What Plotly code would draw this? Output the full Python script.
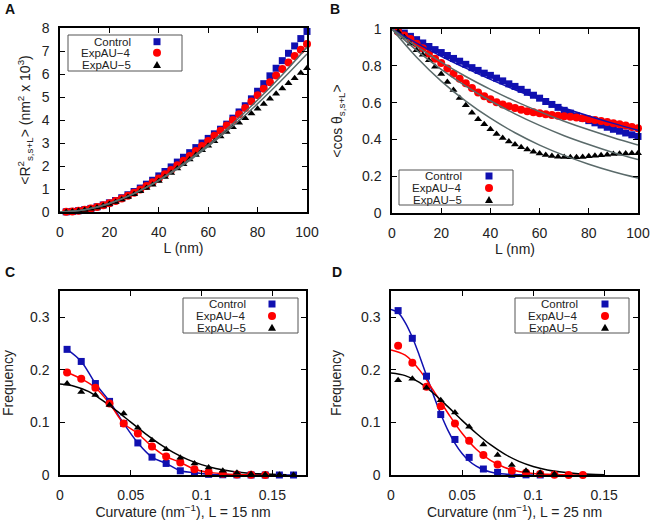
import plotly.graph_objects as go
from plotly.subplots import make_subplots

W, H = 653, 520
BLUE = '#1010b0'
RED = '#ff0000'
BLACK = '#000000'
FIT = '#5a6a6a'
FONT = 'Liberation Sans, Arial, sans-serif'

#Panel A / B : data vs contour length L (nm)___________________________
L_nm = [2.5, 5, 7.5, 10, 12.5, 15, 17.5, 20, 22.5, 25, 27.5, 30, 32.5, 35, 37.5, 40,
        42.5, 45, 47.5, 50, 52.5, 55, 57.5, 60, 62.5, 65, 67.5, 70, 72.5, 75, 77.5, 80,
        82.5, 85, 87.5, 90, 92.5, 95, 97.5, 100]

r2_control = [0.006, 0.025, 0.056, 0.10, 0.156, 0.225, 0.305, 0.40, 0.50, 0.62, 0.75, 0.89,
              1.04, 1.21, 1.38, 1.57, 1.76, 1.96, 2.17, 2.38, 2.58, 2.80, 3.0, 3.2, 3.4, 3.6,
              3.82, 4.08, 4.35, 4.62, 4.92, 5.25, 5.58, 5.92, 6.25, 6.58, 6.90, 7.22, 7.54, 7.85]
r2_exp4 = [0.006, 0.024, 0.054, 0.096, 0.15, 0.215, 0.29, 0.38, 0.48, 0.59, 0.71, 0.84,
           0.98, 1.13, 1.29, 1.46, 1.64, 1.83, 2.03, 2.23, 2.44, 2.65, 2.87, 3.09, 3.31, 3.53,
           3.76, 4.0, 4.25, 4.52, 4.8, 5.08, 5.36, 5.64, 5.93, 6.22, 6.5, 6.78, 7.05, 7.3]
r2_exp5 = [0.005, 0.02, 0.05, 0.09, 0.14, 0.2, 0.27, 0.35, 0.44, 0.54, 0.65, 0.77,
           0.9, 1.04, 1.19, 1.35, 1.52, 1.7, 1.89, 2.08, 2.28, 2.48, 2.68, 2.88, 3.08, 3.28,
           3.48, 3.68, 3.88, 4.08, 4.28, 4.49, 4.7, 4.92, 5.14, 5.37, 5.6, 5.82, 6.04, 6.25]

L_fit = [0, 10, 20, 30, 40, 50, 60, 70, 80, 90, 100]
r2_fit1 = [0, 0.096, 0.372, 0.808, 1.389, 2.10, 2.92, 3.85, 4.87, 5.97, 7.16]
r2_fit2 = [0, 0.096, 0.369, 0.797, 1.363, 2.05, 2.85, 3.74, 4.71, 5.76, 6.87]

cos_control = [0.99, 0.978, 0.96, 0.942, 0.924, 0.905, 0.888, 0.872, 0.856, 0.84, 0.825, 0.808,
               0.79, 0.775, 0.76, 0.748, 0.733, 0.718, 0.702, 0.688, 0.672, 0.656, 0.64, 0.624,
               0.606, 0.59, 0.574, 0.558, 0.543, 0.528, 0.515, 0.502, 0.49, 0.478, 0.466, 0.455,
               0.445, 0.435, 0.425, 0.416]
cos_exp4 = [0.985, 0.965, 0.945, 0.92, 0.895, 0.865, 0.838, 0.815, 0.785, 0.757, 0.73, 0.705,
            0.68, 0.655, 0.635, 0.618, 0.602, 0.59, 0.58, 0.57, 0.561, 0.553, 0.547, 0.542,
            0.537, 0.533, 0.529, 0.526, 0.523, 0.519, 0.515, 0.51, 0.505, 0.5, 0.494, 0.488,
            0.482, 0.476, 0.468, 0.46]
cos_exp5 = [0.985, 0.955, 0.92, 0.885, 0.86, 0.83, 0.795, 0.755, 0.712, 0.668, 0.625, 0.585,
            0.545, 0.51, 0.482, 0.455, 0.43, 0.408, 0.388, 0.372, 0.358, 0.345, 0.333, 0.323,
            0.315, 0.31, 0.306, 0.304, 0.303, 0.303, 0.305, 0.308, 0.311, 0.314, 0.317, 0.32,
            0.322, 0.324, 0.325, 0.325]

cos_fit_control = [1, 0.923, 0.852, 0.787, 0.726, 0.670, 0.619, 0.571, 0.527, 0.487, 0.449]
cos_fit1 = [1, 0.905, 0.820, 0.742, 0.672, 0.608, 0.551, 0.499, 0.452, 0.409, 0.370]
cos_fit2 = [1, 0.884, 0.781, 0.690, 0.610, 0.539, 0.476, 0.420, 0.372, 0.328, 0.290]
cos_fit3 = [1, 0.847, 0.717, 0.608, 0.515, 0.436, 0.369, 0.313, 0.265, 0.224, 0.190]

#Panel C : curvature distribution, L = 15 nm___________________________
curv = [0.005, 0.015, 0.025, 0.035, 0.045, 0.055, 0.065, 0.075, 0.085, 0.095, 0.105,
        0.115, 0.125, 0.135, 0.145, 0.155, 0.165]
c_control = [0.239, 0.216, 0.174, 0.140, 0.098, 0.061, 0.034, 0.022, 0.008, 0.0044, 0.0013,
             0.0005, 0.0002, 0, 0, 0, 0]
c_exp4 = [0.195, 0.183, 0.166, 0.136, 0.098, 0.079, 0.054, 0.035, 0.024, 0.011, 0.005,
          0.0025, 0.001, 0.0003, 0.0001]
c_exp5 = [0.174, 0.158, 0.152, 0.133, 0.117, 0.09, 0.066, 0.049, 0.033, 0.022, 0.0145,
          0.008, 0.0044, 0.002, 0.001, 0.0003, 0.0001]
curv_fit = [0, 0.01, 0.02, 0.03, 0.04, 0.05, 0.06, 0.07, 0.08, 0.09, 0.1, 0.11, 0.12,
            0.13, 0.14, 0.15, 0.16]
c_fit_exp5 = [0.173, 0.169, 0.159, 0.142, 0.122, 0.1006, 0.0792, 0.0598, 0.0431, 0.0298,
              0.0198, 0.0125, 0.0076, 0.0044, 0.0025, 0.0013, 0.0007]

#Panel D : curvature distribution, L = 25 nm___________________________
d_control = [0.3127, 0.260, 0.188, 0.115, 0.0676, 0.0335, 0.0114, 0.005, 0.0013, 0.0003, 0.0001]
d_exp4 = [0.246, 0.2135, 0.168, 0.131, 0.098, 0.065, 0.038, 0.020, 0.0082, 0.0044, 0.002,
          0.0006, 0.0002, 0.0001]
d_exp5 = [0.18, 0.183, 0.166, 0.142, 0.119, 0.0916, 0.058, 0.038, 0.019, 0.0082, 0.0044, 0.0019]
curv_fit_fine = [0, 0.005, 0.01, 0.015, 0.02, 0.025, 0.03, 0.035, 0.04, 0.045, 0.05, 0.055,
                 0.06, 0.065, 0.07, 0.075, 0.08, 0.09, 0.1]
d_fit_control = [0.315, 0.309, 0.290, 0.262, 0.227, 0.189, 0.151, 0.116, 0.0853, 0.0603,
                 0.0409, 0.0267, 0.0167, 0.0100, 0.0058, 0.0032, 0.0017, 0.0004, 0.0001]
d_fit_exp4 = [0.238, 0.228, 0.200, 0.160, 0.118, 0.0793, 0.0489, 0.0276, 0.0143, 0.0068,
              0.0029, 0.0012, 0.0004, 0.0001, 0.0]
d_fit_exp5 = [0.194, 0.189, 0.176, 0.155, 0.130, 0.104, 0.0795, 0.0576, 0.0397, 0.0260,
              0.0163, 0.0097, 0.0055, 0.0029, 0.0015, 0.0007]


def pts(x, y, color, symbol, size, row, col):
    fig.add_trace(go.Scatter(x=x, y=y, mode='markers', cliponaxis=False,
                             marker=dict(color=color, symbol=symbol, size=size, line_width=0)),
                  row=row, col=col)


def curve(x, y, color, row, col, width=1.5):
    fig.add_trace(go.Scatter(x=x, y=y, mode='lines', line=dict(color=color, width=width, shape='spline'),
                             cliponaxis=True), row=row, col=col)


fig = make_subplots(rows=2, cols=2)

# A
pts(L_nm, r2_control, BLUE, 'square', 7, 1, 1)
pts(L_nm, r2_exp4, RED, 'circle', 8, 1, 1)
pts(L_nm, r2_exp5, BLACK, 'triangle-up', 7, 1, 1)
curve(L_fit, r2_fit1, FIT, 1, 1)
curve(L_fit, r2_fit2, FIT, 1, 1)

# B
pts(L_nm, cos_control, BLUE, 'square', 7, 1, 2)
pts(L_nm, cos_exp4, RED, 'circle', 8, 1, 2)
pts(L_nm, cos_exp5, BLACK, 'triangle-up', 7, 1, 2)
curve(L_fit, cos_fit_control, BLUE, 1, 2)
curve(L_fit, cos_fit1, FIT, 1, 2)
curve(L_fit, cos_fit2, FIT, 1, 2)
curve(L_fit, cos_fit3, FIT, 1, 2)

# C
curve(curv, c_control, BLUE, 2, 1)
curve(curv[:len(c_exp4)], c_exp4, RED, 2, 1)
curve(curv_fit, c_fit_exp5, BLACK, 2, 1)
pts(curv, c_control, BLUE, 'square', 7, 2, 1)
pts(curv[:len(c_exp4)], c_exp4, RED, 'circle', 8, 2, 1)
pts(curv, c_exp5, BLACK, 'triangle-up', 7, 2, 1)

# D
curve(curv_fit_fine, d_fit_control, BLUE, 2, 2)
curve(curv_fit[:len(d_fit_exp4)], d_fit_exp4, RED, 2, 2)
curve(curv_fit[:len(d_fit_exp5)], d_fit_exp5, BLACK, 2, 2)
pts(curv[:len(d_control)], d_control, BLUE, 'square', 7, 2, 2)
pts(curv[:len(d_exp4)], d_exp4, RED, 'circle', 8, 2, 2)
pts(curv[:len(d_exp5)], d_exp5, BLACK, 'triangle-up', 7, 2, 2)

axis_style = dict(showline=True, mirror='allticks', linecolor='black', linewidth=1.5,
                  ticks='inside', ticklen=5, tickwidth=1, tickcolor='black',
                  showgrid=False, zeroline=False, ticklabelstandoff=6, automargin=False,
                  tickfont=dict(size=14, color='#222'),
                  title_font=dict(size=14, color='#222'))


def dom_x(a, b):
    return [a / W, b / W]


def dom_y(top, bottom):
    return [1 - bottom / H, 1 - top / H]


curv_title = 'Curvature (nm<sup>\u22121</sup>), L = {} nm'
fig.update_layout(
    xaxis=dict(axis_style, domain=dom_x(60, 307), range=[0, 100], dtick=20,
               title=dict(text='L (nm)', standoff=0)),
    yaxis=dict(axis_style, domain=dom_y(28, 212), range=[0, 8], dtick=1,
               title=dict(text='&lt;R<sup>2</sup><sub>s,s+L</sub>&gt; (nm<sup>2</sup> x 10<sup>3</sup>)',
                          standoff=8)),
    xaxis2=dict(axis_style, domain=dom_x(392, 638), range=[0, 100], dtick=20,
                title=dict(text='L (nm)', standoff=0)),
    yaxis2=dict(axis_style, domain=dom_y(29, 213), range=[0, 1], dtick=0.2,
                title=dict(text='&lt;cos \u03b8<sub>s,s+L</sub>&gt;', standoff=16)),
    xaxis3=dict(axis_style, domain=dom_x(60, 306), range=[0, 0.1738], dtick=0.05,
                title=dict(text=curv_title.format(15), standoff=10)),
    yaxis3=dict(axis_style, domain=dom_y(291, 475), range=[0, 0.35], dtick=0.1,
                title=dict(text='Frequency', standoff=16)),
    xaxis4=dict(axis_style, domain=dom_x(391, 638), range=[0, 0.1738], dtick=0.05,
                title=dict(text=curv_title.format(25), standoff=10)),
    yaxis4=dict(axis_style, domain=dom_y(291, 475), range=[0, 0.35], dtick=0.1,
                title=dict(text='Frequency', standoff=16)),
    width=W, height=H, margin=dict(l=0, r=0, t=0, b=0, autoexpand=False),
    paper_bgcolor='white', plot_bgcolor='white', showlegend=False,
    font=dict(family=FONT, color='#222'),
)

# gnuplot-style keys: label right-aligned, sample symbol on the right
entries = [('Control', 'square', BLUE), ('ExpAU\u22124', 'circle', RED), ('ExpAU\u22125', 'triangle', BLACK)]


def key(box, text_right, sym_x, rows):
    x0, y0, x1, y1 = box
    fig.add_shape(type='rect', xref='paper', yref='paper', x0=x0 / W, x1=x1 / W,
                  y0=1 - y1 / H, y1=1 - y0 / H, line=dict(color='#555', width=1),
                  fillcolor='white', layer='above')
    for (label, kind, color), y in zip(entries, rows):
        fig.add_annotation(xref='paper', yref='paper', x=text_right / W, y=1 - y / H,
                           text=label, showarrow=False, xanchor='right', yanchor='middle',
                           font=dict(size=11.5, color='#222'), borderpad=0)
        if kind == 'square':
            fig.add_shape(type='rect', xref='paper', yref='paper', x0=(sym_x - 3.5) / W,
                          x1=(sym_x + 3.5) / W, y0=1 - (y + 3.5) / H, y1=1 - (y - 3.5) / H,
                          fillcolor=color, line_width=0, layer='above')
        elif kind == 'circle':
            fig.add_shape(type='circle', xref='paper', yref='paper', x0=(sym_x - 4) / W,
                          x1=(sym_x + 4) / W, y0=1 - (y + 4) / H, y1=1 - (y - 4) / H,
                          fillcolor=color, line_width=0, layer='above')
        else:
            p = [(sym_x - 4, y + 3), (sym_x + 4, y + 3), (sym_x, y - 4)]
            path = 'M ' + ' L '.join(f'{a / W},{1 - b / H}' for a, b in p) + ' Z'
            fig.add_shape(type='path', xref='paper', yref='paper', path=path,
                          fillcolor=color, line_width=0, layer='above')


key((68, 35, 182, 71), 132, 157, [41.7, 52.7, 65])
key((399, 170, 513, 205), 463, 489, [176, 188, 200])
key((183, 298, 298, 333), 247, 272, [304, 316, 327.7])
key((515, 298, 629, 333), 579, 605, [304, 316, 327.7])

for lab, x, y in [('A', 3, 9), ('B', 328, 9), ('C', 3, 272), ('D', 330, 272)]:
    fig.add_annotation(xref='paper', yref='paper', x=x / W, y=1 - y / H, text=f'<b>{lab}</b>',
                       showarrow=False, xanchor='left', yanchor='middle',
                       font=dict(size=14, color='#111'))

# page body has a default 8px margin that would shift the figure
fig.write_html("out.html", config={'displayModeBar': False},
               post_script="document.body.style.margin='0';document.body.style.overflow='hidden';")
